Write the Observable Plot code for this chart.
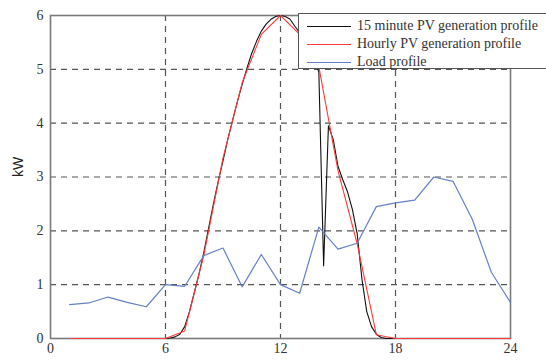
<!DOCTYPE html>
<html><head><meta charset="utf-8">
<script src="https://cdn.jsdelivr.net/npm/d3@7"></script>
<script src="https://cdn.jsdelivr.net/npm/@observablehq/plot@0.6"></script>
<style>
body{margin:0;background:#fff;overflow:hidden}
#wrap{position:relative;width:546px;height:361px;overflow:hidden}
#legend{position:absolute;left:298px;top:13px;width:252px;height:56px;border:1px solid #555;background:#fff;font-family:"Liberation Serif",serif;font-size:14px;color:#333;box-sizing:border-box}
#legend .row{position:absolute;left:0;height:18px;display:flex;align-items:center}
#legend .sw{display:inline-block;width:44px;height:0;margin-left:8px;margin-right:6px;border-top:1.3px solid}
</style></head><body><div id="wrap"></div><script>
const hours = [1,2,3,4,5,6,7,8,9,10,11,12,13,14,15,16,17,18,19,20,21,22,23,24];
const loadKW = [0.63,0.66,0.77,0.67,0.59,1.0,0.97,1.54,1.68,0.96,1.56,1.0,0.84,2.07,1.66,1.77,2.45,2.52,2.57,3.0,2.92,2.22,1.23,0.67];
const hourlyPV = [0,0,0,0,0,0,0.14,1.55,3.35,4.75,5.65,6.0,5.65,5.05,3.12,1.76,0.07,0,0,0,0,0,0,0];
const quarterTimes = [6,6.25,6.5,6.75,7,7.25,7.5,7.75,8,8.25,8.5,8.75,9,9.25,9.5,9.75,10,10.25,10.5,10.75,11,11.25,11.5,11.75,12,12.25,12.5,12.75,13,13.25,13.5,13.75,14,14.25,14.5,14.75,15,15.25,15.5,15.75,16,16.25,16.5,16.75,17,17.25,17.5,17.75,18];
const quarterPV = [0,0.01,0.03,0.08,0.22,0.5,0.85,1.2,1.6,2.05,2.5,2.92,3.3,3.7,4.05,4.4,4.72,5.02,5.3,5.52,5.71,5.84,5.93,5.98,6.0,5.98,5.93,5.8,5.68,5.55,5.4,5.2,4.95,1.35,3.95,3.7,3.2,2.95,2.72,2.4,1.95,1.1,0.5,0.22,0.08,0.02,0,0,0];
const xTicks = [0,6,12,18,24];
const yTicks = [0,1,2,3,4,5,6];
const xGrid = [6,12,18];
const yGrid = [1,2,3,4,5];
const seriesNames = ["15 minute PV generation profile","Hourly PV generation profile","Load profile"];
const seriesColors = ["#111111","#ff3b3b","#6680c8"];

const quarter = quarterTimes.map((t,i)=>({t, v: quarterPV[i]}));
const hourly = hours.map((h,i)=>({t:h, v: hourlyPV[i]}));
const load = hours.map((h,i)=>({t:h, v: loadKW[i]}));

const serif = "Liberation Serif";
const chart = Plot.plot({
  width: 546, height: 361,
  marginLeft: 50, marginRight: 36, marginTop: 15, marginBottom: 23,
  style: {fontFamily: serif, fontSize: "14px", color: "#333", background: "#fff"},
  x: {domain: [0,24]},
  y: {domain: [0,6]},
  marks: [
    Plot.ruleX(xGrid, {stroke: "#555", strokeWidth: 1.2, strokeDasharray: "6,5"}),
    Plot.ruleY(yGrid, {stroke: "#555", strokeWidth: 1.2, strokeDasharray: "6,5"}),
    Plot.frame({stroke: "#7a7a7a", strokeWidth: 1.6}),
    Plot.line(quarter, {x: "t", y: "v", stroke: seriesColors[0], strokeWidth: 1.1}),
    Plot.line(hourly, {x: "t", y: "v", stroke: seriesColors[1], strokeWidth: 1.1}),
    Plot.line(load, {x: "t", y: "v", stroke: seriesColors[2], strokeWidth: 1.2}),
    Plot.axisX({ticks: xTicks, tickSize: 0, tickPadding: 5, label: null, fontSize: 14, fontFamily: serif, className: "serifaxis", tickFormat: d => String(d)}),
    Plot.axisY({ticks: yTicks, tickSize: 0, tickPadding: 7, label: null, fontSize: 14, fontFamily: serif, className: "serifaxis", tickFormat: d => String(d)}),
    Plot.text(["kW"], {frameAnchor: "left", dx: -32, rotate: -90, fontSize: 14, fill: "#222", fontFamily: "Liberation Sans"})
  ]
});
const wrap = document.getElementById("wrap");
wrap.appendChild(chart);
chart.querySelectorAll("g[aria-label='x-axis tick label'] text, g[aria-label='y-axis tick label'] text, g[aria-label='x-axis tick label'], g[aria-label='y-axis tick label']").forEach(t => { t.style.fontFamily = "'Liberation Serif', serif"; });

const legend = document.createElement("div");
legend.id = "legend";
seriesNames.forEach((name, i) => {
  const row = document.createElement("div");
  row.className = "row";
  row.style.top = (3 + i * 18) + "px";
  const sw = document.createElement("span");
  sw.className = "sw";
  sw.style.borderTopColor = seriesColors[i];
  row.appendChild(sw);
  const tx = document.createElement("span");
  tx.textContent = name;
  row.appendChild(tx);
  legend.appendChild(row);
});
wrap.appendChild(legend);
</script></body></html>
